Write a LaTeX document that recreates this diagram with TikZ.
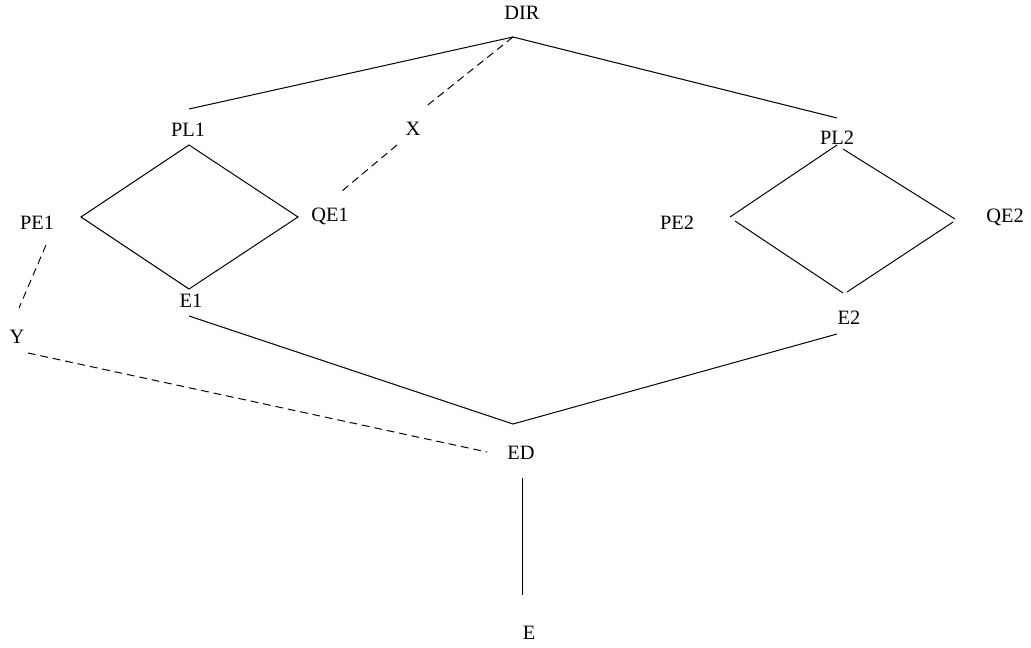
\documentclass[tikz,border=0pt]{standalone}
\usepackage{fontspec}
\setmainfont{Liberation Serif}
\usetikzlibrary{arrows,shapes}

\begin{document}
\begin{tikzpicture}[x=0.025cm,y=-0.025cm,
  lbl/.style={inner sep=0pt,font=\fontsize{14.5}{17}\selectfont},
  ln/.style={line width=0.7pt},
  dsh/.style={line width=0.7pt,dash pattern=on 5.5pt off 3.5pt}]
\useasboundingbox (0,0) rectangle (1031,648);
% labels
\node (DIR) at (522,13)[lbl] {DIR};
\node (PL1) at (188,130)[lbl] {PL1};
\node (PL2) at (837,138)[lbl] {PL2};
\node (X) at (413,129)[lbl] {X};
\node (PE1) at (37,223)[lbl] {PE1};
\node (QE1) at (330,216)[lbl] {QE1};
\node (PE2) at (677,223)[lbl] {PE2};
\node (QE2) at (1005,217)[lbl] {QE2};
\node (E1) at (191,301)[lbl] {E1};
\node (E2) at (849,318)[lbl] {E2};
\node (Y) at (17,337)[lbl] {Y};
\node (ED) at (521,453)[lbl] {ED};
\node (E) at (529,633)[lbl] {E};
% line ends
\coordinate (dirT) at (513,37);
\coordinate (pl1T) at (189,109);
\coordinate (pl2T) at (837,118);
\coordinate (xT) at (424,108);
\coordinate (xB) at (397,145);
\coordinate (qe1T) at (342,191);
\coordinate (d1T) at (189,145);
\coordinate (d1L) at (81,217);
\coordinate (d1R) at (298,217);
\coordinate (d1B) at (189,289);
\coordinate (pe1B) at (46,245);
\coordinate (yT) at (19,308);
\coordinate (yB) at (28,353);
\coordinate (edL) at (487,452);
\coordinate (e1B) at (189,316);
\coordinate (edT) at (513,424);
\coordinate (e2B) at (837,334);
\coordinate (edB) at (522,478);
\coordinate (eT) at (522,595);
% top
\draw [ln] (pl1T) -- (dirT) -- (pl2T);
\draw [dsh] (dirT) -- (xT);
\draw [dsh] (xB) -- (qe1T);
% left diamond
\draw [ln] (d1T) -- (d1L) -- (d1B) -- (d1R) -- cycle;
% right diamond
\draw [ln] (837,145) -- (730,217);
\draw [ln] (843,149) -- (955,219);
\draw [ln] (735,221) -- (843,293);
\draw [ln] (847,292) -- (953,222);
% bottom
\draw [dsh] (pe1B) -- (yT);
\draw [dsh] (yB) -- (edL);
\draw [ln] (e1B) -- (edT) -- (e2B);
\draw [ln] (edB) -- (eT);
\end{tikzpicture}
\end{document}
